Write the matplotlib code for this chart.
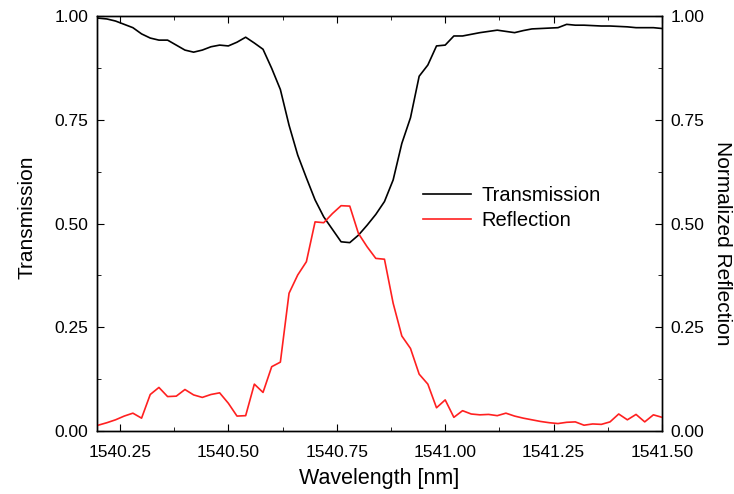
import matplotlib
matplotlib.use("Agg")
import matplotlib.pyplot as plt
from matplotlib.ticker import MultipleLocator, FormatStrFormatter

plt.rcParams['font.family'] = ['Liberation Sans', 'DejaVu Sans']

# wavelength samples [nm]
wavelength = [1540.20, 1540.22, 1540.24, 1540.26, 1540.28, 1540.30, 1540.32, 1540.34,
              1540.36, 1540.38, 1540.40, 1540.42, 1540.44, 1540.46, 1540.48, 1540.50,
              1540.52, 1540.54, 1540.56, 1540.58, 1540.60, 1540.62, 1540.64, 1540.66,
              1540.68, 1540.70, 1540.72, 1540.74, 1540.76, 1540.78, 1540.80, 1540.82,
              1540.84, 1540.86, 1540.88, 1540.90, 1540.92, 1540.94, 1540.96, 1540.98,
              1541.00, 1541.02, 1541.04, 1541.06, 1541.08, 1541.10, 1541.12, 1541.14,
              1541.16, 1541.18, 1541.20, 1541.22, 1541.24, 1541.26, 1541.28, 1541.30,
              1541.32, 1541.34, 1541.36, 1541.38, 1541.40, 1541.42, 1541.44, 1541.46,
              1541.48, 1541.50]

transmission = [0.995, 0.993, 0.988, 0.980, 0.972, 0.957, 0.947, 0.942,
                0.942, 0.930, 0.918, 0.913, 0.918, 0.926, 0.930, 0.928,
                0.937, 0.949, 0.935, 0.920, 0.874, 0.823, 0.737, 0.665,
                0.610, 0.557, 0.516, 0.486, 0.456, 0.454, 0.472, 0.496,
                0.522, 0.553, 0.605, 0.693, 0.755, 0.855, 0.882, 0.928,
                0.930, 0.952, 0.952, 0.956, 0.960, 0.963, 0.966, 0.963,
                0.960, 0.965, 0.969, 0.970, 0.971, 0.972, 0.980, 0.978,
                0.978, 0.977, 0.976, 0.976, 0.975, 0.974, 0.972, 0.972,
                0.972, 0.970]

reflection = [0.014, 0.020, 0.027, 0.036, 0.043, 0.031, 0.088, 0.105,
              0.083, 0.084, 0.100, 0.087, 0.081, 0.088, 0.092, 0.067,
              0.036, 0.037, 0.113, 0.093, 0.155, 0.166, 0.332, 0.376,
              0.408, 0.504, 0.502, 0.524, 0.543, 0.542, 0.476, 0.444,
              0.416, 0.414, 0.308, 0.229, 0.199, 0.137, 0.113, 0.056,
              0.075, 0.033, 0.049, 0.041, 0.039, 0.040, 0.037, 0.043,
              0.036, 0.031, 0.027, 0.023, 0.020, 0.018, 0.021, 0.022,
              0.014, 0.017, 0.016, 0.022, 0.041, 0.027, 0.040, 0.022,
              0.039, 0.033]

fig = plt.figure(figsize=(7.34, 4.94), dpi=100)
ax = fig.add_axes([0.132, 0.1275, 0.770, 0.840])
ax2 = ax.twinx()

l1, = ax.plot(wavelength, transmission, color='black', lw=1.2, label='Transmission')
l2, = ax2.plot(wavelength, reflection, color='#ff2020', lw=1.2, label='Reflection')

ax.set_xlim(1540.197, 1541.50)
ax.set_ylim(0, 1.0)
ax2.set_ylim(0, 1.0)

for a in (ax, ax2):
    a.yaxis.set_major_locator(MultipleLocator(0.25))
    a.yaxis.set_minor_locator(MultipleLocator(0.125))
    a.yaxis.set_major_formatter(FormatStrFormatter('%.2f'))
    a.tick_params(which='both', direction='in', labelsize=12.5)
    a.tick_params(which='major', length=5)
    a.tick_params(which='minor', length=3)
    for s in a.spines.values():
        s.set_linewidth(1.0)

ax.xaxis.set_major_locator(MultipleLocator(0.25))
ax.xaxis.set_minor_locator(MultipleLocator(0.125))
ax.xaxis.set_major_formatter(FormatStrFormatter('%.2f'))
ax.tick_params(axis='x', which='both', top=True, pad=10)
ax.tick_params(axis='y', which='both', left=True, right=False, pad=6)
ax2.tick_params(axis='y', which='both', right=True, left=False, pad=6)

ax.set_xlabel('Wavelength [nm]', fontsize=15.5, labelpad=6)
ax.set_ylabel('Transmission', fontsize=15, labelpad=13)
ax2.set_ylabel('Normalized Reflection', fontsize=15, rotation=270, labelpad=20)
# labels in the original sit a little off-centre
ax.yaxis.label.set_y(0.516)
ax2.yaxis.label.set_y(0.453)

ax2.legend([l1, l2], ['Transmission', 'Reflection'], frameon=False, fontsize=14.5,
           loc='upper left', bbox_to_anchor=(0.545, 0.635), handlelength=2.4,
           handletextpad=0.5, labelspacing=0.3)

fig.savefig('out.png', dpi=100)
